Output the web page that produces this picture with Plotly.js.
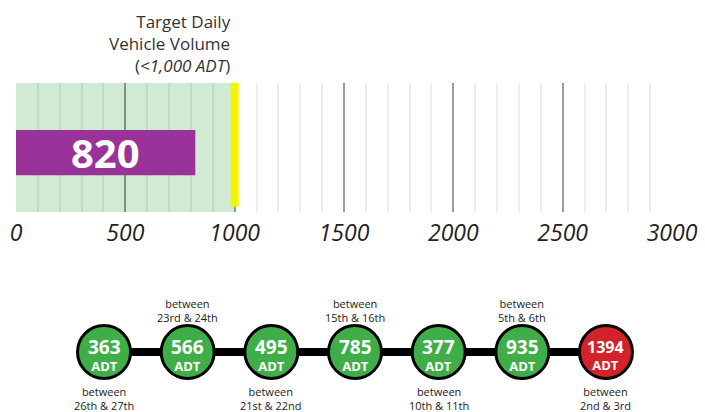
<!DOCTYPE html>
<html>
<head>
<meta charset="utf-8">
<script src="https://cdn.plot.ly/plotly-3.0.1.min.js"></script>
<style>html,body{margin:0;padding:0;background:#fff;}#chart{width:705px;height:412px;}</style>
</head>
<body>
<div id="chart"></div>
<script>
// ---- Data ----
const gaugeValue = 820;
const targetValue = 1000;
const gaugeTickVals = [0, 500, 1000, 1500, 2000, 2500, 3000];
const gaugeTickText = ['0', '500', '1000', '1500', '2000', '2500', '3000'];
const targetTitle = ['Target Daily', 'Vehicle Volume', '(<i>&lt;1,000 ADT</i>)'];

const segmentValues = [363, 566, 495, 785, 377, 935, 1394];
const segmentLabels = [
  'between<br>26th &amp; 27th',
  'between<br>23rd &amp; 24th',
  'between<br>21st &amp; 22nd',
  'between<br>15th &amp; 16th',
  'between<br>10th &amp; 11th',
  'between<br>5th &amp; 6th',
  'between<br>2nd &amp; 3rd'
];
const labelSides = ['below', 'above', 'below', 'above', 'below', 'above', 'below'];

// ---- Build ----
const FONT = 'Open Sans, Noto Sans, sans-serif';
const GREEN = '#3fae49', RED = '#d2232a', PURPLE = '#993399';
const segX = segmentValues.map((v, i) => i + 1);
const segColors = segmentValues.map(v => v < targetValue ? GREEN : RED);

const traces = [
  {
    type: 'bar', orientation: 'h',
    x: [gaugeValue], y: [0], width: 0.35,
    marker: {color: PURPLE},
    xaxis: 'x', yaxis: 'y', hoverinfo: 'none'
  },
  {
    type: 'scatter', mode: 'lines',
    x: segX, y: segX.map(() => 0),
    line: {color: '#000', width: 8},
    xaxis: 'x2', yaxis: 'y2', hoverinfo: 'none'
  },
  {
    type: 'scatter', mode: 'markers',
    x: segX, y: segX.map(() => 0),
    marker: {size: 53, color: segColors, line: {color: '#000', width: 3}},
    xaxis: 'x2', yaxis: 'y2', hoverinfo: 'none'
  }
];

const annotations = [];
// value label on bar
annotations.push({
  xref: 'x', yref: 'y', x: gaugeValue / 2, y: 0,
  text: '<b>' + gaugeValue + '</b>', showarrow: false,
  font: {family: FONT, size: 40, color: '#fff'}
});
// target title
annotations.push({
  xref: 'x', yref: 'paper', x: targetValue, y: 0.8944,
  xanchor: 'right', yanchor: 'middle', align: 'right', xshift: -2,
  text: targetTitle.join('<br>'), showarrow: false,
  font: {family: FONT, size: 17, color: '#333'}
});
segmentValues.forEach((v, i) => {
  const s = String(v);
  const numSize = s.length > 3 ? 16 : 19;
  annotations.push({
    xref: 'x2', yref: 'y2', x: segX[i], y: 0, yshift: -3,
    text: '<span style="font-size:' + numSize + 'px"><b>' + s + '</b></span><br><b>ADT</b>',
    showarrow: false,
    font: {family: FONT, size: 13, color: '#fff'}
  });
  annotations.push({
    xref: 'x2', yref: 'y2', x: segX[i], y: labelSides[i] === 'above' ? 0.69 : -0.77,
    yanchor: 'middle',
    text: segmentLabels[i], showarrow: false,
    font: {family: FONT, size: 11, color: '#222'}
  });
});

const layout = {
  width: 705, height: 412,
  margin: {l: 0, r: 0, t: 0, b: 0},
  paper_bgcolor: '#fff', plot_bgcolor: 'rgba(0,0,0,0)',
  showlegend: false,
  xaxis: {
    domain: [16 / 705, 672 / 705], range: [0, 3000], anchor: 'y',
    tickvals: gaugeTickVals, ticktext: gaugeTickText,
    showgrid: true, gridcolor: 'rgba(0,0,0,0.34)', gridwidth: 2,
    zeroline: false, showline: false, ticks: '',
    ticklabelstandoff: 5,
    minor: {dtick: 100, showgrid: true, gridcolor: 'rgba(0,0,0,0.07)', gridwidth: 2},
    tickfont: {family: FONT, size: 23, color: '#222', style: 'italic'},
    fixedrange: true
  },
  yaxis: {
    domain: [0.4854, 0.7985], range: [-0.46, 0.54], anchor: 'x',
    showgrid: false, zeroline: false, showticklabels: false, fixedrange: true
  },
  xaxis2: {
    domain: [62.2 / 705, 647.8 / 705], range: [0.5, 7.5], anchor: 'y2',
    visible: false, fixedrange: true
  },
  yaxis2: {
    domain: [0, 0.2913], range: [-1, 1], anchor: 'x2',
    visible: false, fixedrange: true
  },
  shapes: [
    {type: 'rect', xref: 'x', yref: 'y domain', x0: 0, x1: targetValue, y0: 0, y1: 1,
     fillcolor: '#d1ead3', line: {width: 0}, layer: 'below'},
    {type: 'line', xref: 'x', yref: 'y domain', x0: targetValue, x1: targetValue, y0: 0.04, y1: 1,
     line: {color: '#f4f400', width: 8}, layer: 'above'}
  ],
  annotations: annotations
};

Plotly.newPlot('chart', traces, layout, {displayModeBar: false, staticPlot: true});
</script>
</body>
</html>
